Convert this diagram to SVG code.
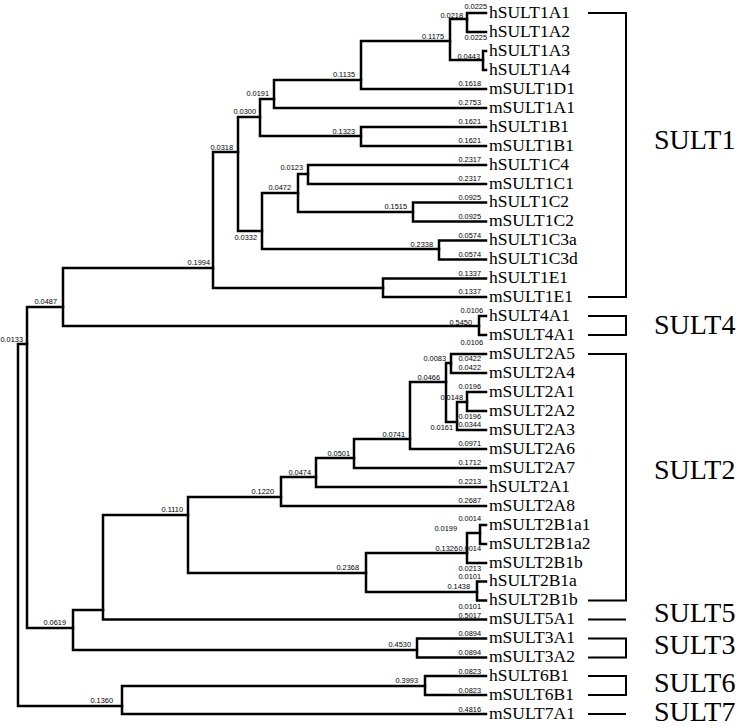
<svg xmlns="http://www.w3.org/2000/svg" width="744" height="727" viewBox="0 0 744 727">
<style>
.br{fill:none;stroke:#000;stroke-width:2.5;stroke-linecap:square;stroke-linejoin:miter}
.bk{fill:none;stroke:#000;stroke-width:2;stroke-linecap:butt;stroke-linejoin:miter}
.lf{font-family:"Liberation Serif","Times New Roman",serif;font-size:17.5px;fill:#000}
.cl{font-family:"Liberation Serif","Times New Roman",serif;font-size:28px;fill:#000}
.bl{font-family:"Liberation Sans",Arial,sans-serif;font-size:7.4px;fill:#000;text-anchor:end}
</style>
<rect width="744" height="727" fill="#fff"/>
<g id="connectors">
<path class="br" d="M486,13 H467 V32 H486"/>
<path class="br" d="M486,51 H483 V70 H486"/>
<path class="br" d="M486,127 H361 V146 H486"/>
<path class="br" d="M486,165 H308 V184 H486"/>
<path class="br" d="M486,202.5 H413 V221.5 H486"/>
<path class="br" d="M486,240.5 H439 V259.5 H486"/>
<path class="br" d="M486,278.5 H383 V297 H486"/>
<path class="br" d="M486,316 H479 V335 H486"/>
<path class="br" d="M486,354 H451 V373 H486"/>
<path class="br" d="M486,392 H467 V411 H486"/>
<path class="br" d="M486,525 H480 V544 H486"/>
<path class="br" d="M486,581.5 H477 V600.5 H486"/>
<path class="br" d="M486,638.5 H417 V657.5 H486"/>
<path class="br" d="M486,676 H425 V695 H486"/>
<path class="br" d="M467,19 H450 V60 H483"/>
<path class="br" d="M450,41 H361 V89 H486"/>
<path class="br" d="M361,80 H274 V108 H486"/>
<path class="br" d="M274,99 H260 V136 H361"/>
<path class="br" d="M260,117 H238 V231 H262"/>
<path class="br" d="M308,174 H298 V212 H413"/>
<path class="br" d="M298,193 H262 V249 H439"/>
<path class="br" d="M238,152 H213 V288 H383"/>
<path class="br" d="M213,268 H63 V326 H479"/>
<path class="br" d="M63,307 H27 V628 H73"/>
<path class="br" d="M27,344 H18 V706 H122"/>
<path class="br" d="M467,402 H457 V430 H486"/>
<path class="br" d="M451,363 H446 V422 H457"/>
<path class="br" d="M446,382 H410 V449 H486"/>
<path class="br" d="M410,439 H354 V468 H486"/>
<path class="br" d="M354,458 H316 V487 H486"/>
<path class="br" d="M316,477 H281 V506 H486"/>
<path class="br" d="M480,533 H467 V563 H486"/>
<path class="br" d="M467,553 H366 V592 H477"/>
<path class="br" d="M281,497 H188 V573 H366"/>
<path class="br" d="M188,515 H103 V619.5 H486"/>
<path class="br" d="M103,610 H73 V650 H417"/>
<path class="br" d="M425,686 H122 V714 H486"/>
</g>
<g id="branch-lengths">
<text class="bl" x="487" y="8.5">0.0225</text>
<text class="bl" x="487" y="40">0.0225</text>
<text class="bl" x="481" y="86">0.1618</text>
<text class="bl" x="481" y="105">0.2753</text>
<text class="bl" x="481" y="124">0.1621</text>
<text class="bl" x="481" y="143">0.1621</text>
<text class="bl" x="481" y="162">0.2317</text>
<text class="bl" x="481" y="181">0.2317</text>
<text class="bl" x="481" y="199.5">0.0925</text>
<text class="bl" x="481" y="218.5">0.0925</text>
<text class="bl" x="481" y="237.5">0.0574</text>
<text class="bl" x="481" y="256.5">0.0574</text>
<text class="bl" x="481" y="275.5">0.1337</text>
<text class="bl" x="481" y="294">0.1337</text>
<text class="bl" x="483" y="313">0.0106</text>
<text class="bl" x="483" y="345">0.0106</text>
<text class="bl" x="481" y="361">0.0422</text>
<text class="bl" x="481" y="370">0.0422</text>
<text class="bl" x="481" y="389">0.0196</text>
<text class="bl" x="481" y="419">0.0196</text>
<text class="bl" x="481" y="427">0.0344</text>
<text class="bl" x="481" y="446">0.0971</text>
<text class="bl" x="481" y="465">0.1712</text>
<text class="bl" x="481" y="484">0.2213</text>
<text class="bl" x="481" y="503">0.2687</text>
<text class="bl" x="481" y="521">0.0014</text>
<text class="bl" x="481" y="551">0.0014</text>
<text class="bl" x="481" y="571">0.0213</text>
<text class="bl" x="481" y="579">0.0101</text>
<text class="bl" x="481" y="608.5">0.0101</text>
<text class="bl" x="481" y="617.5">0.5017</text>
<text class="bl" x="481" y="636">0.0894</text>
<text class="bl" x="481" y="655">0.0894</text>
<text class="bl" x="481" y="674">0.0823</text>
<text class="bl" x="481" y="693">0.0823</text>
<text class="bl" x="481" y="712">0.4816</text>
<text class="bl" x="463" y="18">0.0218</text>
<text class="bl" x="444" y="38.5">0.1175</text>
<text class="bl" x="480" y="58.5">0.0443</text>
<text class="bl" x="355" y="77">0.1135</text>
<text class="bl" x="269" y="96">0.0191</text>
<text class="bl" x="256" y="114">0.0300</text>
<text class="bl" x="355" y="133.5">0.1323</text>
<text class="bl" x="233" y="150">0.0318</text>
<text class="bl" x="303" y="170">0.0123</text>
<text class="bl" x="291" y="190">0.0472</text>
<text class="bl" x="407" y="209">0.1515</text>
<text class="bl" x="257" y="240">0.0332</text>
<text class="bl" x="433" y="246.5">0.2338</text>
<text class="bl" x="210" y="265">0.1994</text>
<text class="bl" x="57" y="304">0.0487</text>
<text class="bl" x="472" y="325">0.5450</text>
<text class="bl" x="23" y="342">0.0133</text>
<text class="bl" x="446" y="361">0.0083</text>
<text class="bl" x="440" y="380">0.0466</text>
<text class="bl" x="463" y="400">0.0148</text>
<text class="bl" x="453" y="430">0.0161</text>
<text class="bl" x="405" y="437">0.0741</text>
<text class="bl" x="350" y="456">0.0501</text>
<text class="bl" x="311" y="475">0.0474</text>
<text class="bl" x="274" y="494">0.1220</text>
<text class="bl" x="183" y="512">0.1110</text>
<text class="bl" x="457" y="531">0.0199</text>
<text class="bl" x="458" y="551">0.1326</text>
<text class="bl" x="359" y="570">0.2368</text>
<text class="bl" x="470" y="589">0.1438</text>
<text class="bl" x="66" y="625">0.0619</text>
<text class="bl" x="411" y="647">0.4530</text>
<text class="bl" x="418" y="683">0.3993</text>
<text class="bl" x="113" y="703">0.1360</text>
</g>
<g id="leaf-hSULT1A1"><text class="lf" x="489" y="17.5">hSULT1A1</text></g>
<g id="leaf-hSULT1A2"><text class="lf" x="489" y="36.5">hSULT1A2</text></g>
<g id="leaf-hSULT1A3"><text class="lf" x="489" y="55.5">hSULT1A3</text></g>
<g id="leaf-hSULT1A4"><text class="lf" x="489" y="74.5">hSULT1A4</text></g>
<g id="leaf-mSULT1D1"><text class="lf" x="489" y="93.5">mSULT1D1</text></g>
<g id="leaf-mSULT1A1"><text class="lf" x="489" y="112.5">mSULT1A1</text></g>
<g id="leaf-hSULT1B1"><text class="lf" x="489" y="131.5">hSULT1B1</text></g>
<g id="leaf-mSULT1B1"><text class="lf" x="489" y="150.5">mSULT1B1</text></g>
<g id="leaf-hSULT1C4"><text class="lf" x="489" y="169.5">hSULT1C4</text></g>
<g id="leaf-mSULT1C1"><text class="lf" x="489" y="188.5">mSULT1C1</text></g>
<g id="leaf-hSULT1C2"><text class="lf" x="489" y="207">hSULT1C2</text></g>
<g id="leaf-mSULT1C2"><text class="lf" x="489" y="226">mSULT1C2</text></g>
<g id="leaf-hSULT1C3a"><text class="lf" x="489" y="245">hSULT1C3a</text></g>
<g id="leaf-hSULT1C3d"><text class="lf" x="489" y="264">hSULT1C3d</text></g>
<g id="leaf-hSULT1E1"><text class="lf" x="489" y="283">hSULT1E1</text></g>
<g id="leaf-mSULT1E1"><text class="lf" x="489" y="301.5">mSULT1E1</text></g>
<g id="leaf-hSULT4A1"><text class="lf" x="489" y="320.5">hSULT4A1</text></g>
<g id="leaf-mSULT4A1"><text class="lf" x="489" y="339.5">mSULT4A1</text></g>
<g id="leaf-mSULT2A5"><text class="lf" x="489" y="358.5">mSULT2A5</text></g>
<g id="leaf-mSULT2A4"><text class="lf" x="489" y="377.5">mSULT2A4</text></g>
<g id="leaf-mSULT2A1"><text class="lf" x="489" y="396.5">mSULT2A1</text></g>
<g id="leaf-mSULT2A2"><text class="lf" x="489" y="415.5">mSULT2A2</text></g>
<g id="leaf-mSULT2A3"><text class="lf" x="489" y="434.5">mSULT2A3</text></g>
<g id="leaf-mSULT2A6"><text class="lf" x="489" y="453.5">mSULT2A6</text></g>
<g id="leaf-mSULT2A7"><text class="lf" x="489" y="472.5">mSULT2A7</text></g>
<g id="leaf-hSULT2A1"><text class="lf" x="489" y="491.5">hSULT2A1</text></g>
<g id="leaf-mSULT2A8"><text class="lf" x="489" y="510.5">mSULT2A8</text></g>
<g id="leaf-mSULT2B1a1"><text class="lf" x="489" y="529.5">mSULT2B1a1</text></g>
<g id="leaf-mSULT2B1a2"><text class="lf" x="489" y="548.5">mSULT2B1a2</text></g>
<g id="leaf-mSULT2B1b"><text class="lf" x="489" y="567.5">mSULT2B1b</text></g>
<g id="leaf-hSULT2B1a"><text class="lf" x="489" y="586">hSULT2B1a</text></g>
<g id="leaf-hSULT2B1b"><text class="lf" x="489" y="605">hSULT2B1b</text></g>
<g id="leaf-mSULT5A1"><text class="lf" x="489" y="624">mSULT5A1</text></g>
<g id="leaf-mSULT3A1"><text class="lf" x="489" y="643">mSULT3A1</text></g>
<g id="leaf-mSULT3A2"><text class="lf" x="489" y="662">mSULT3A2</text></g>
<g id="leaf-hSULT6B1"><text class="lf" x="489" y="680.5">hSULT6B1</text></g>
<g id="leaf-mSULT6B1"><text class="lf" x="489" y="699.5">mSULT6B1</text></g>
<g id="leaf-mSULT7A1"><text class="lf" x="489" y="718.5">mSULT7A1</text></g>
<g id="clade-SULT1"><path class="bk" d="M588,13 H626 V297 H588"/><text class="cl" x="654" y="149">SULT1</text></g>
<g id="clade-SULT4"><path class="bk" d="M588,316 H626 V335 H588"/><text class="cl" x="654" y="334">SULT4</text></g>
<g id="clade-SULT2"><path class="bk" d="M588,354 H626 V600.5 H588"/><text class="cl" x="654" y="479">SULT2</text></g>
<g id="clade-SULT5"><path class="bk" d="M588,619.5 H626"/><text class="cl" x="654" y="622">SULT5</text></g>
<g id="clade-SULT3"><path class="bk" d="M588,638.5 H626 V657.5 H588"/><text class="cl" x="654" y="654">SULT3</text></g>
<g id="clade-SULT6"><path class="bk" d="M588,676 H626 V695 H588"/><text class="cl" x="654" y="692">SULT6</text></g>
<g id="clade-SULT7"><path class="bk" d="M588,714 H626"/><text class="cl" x="654" y="721">SULT7</text></g>
</svg>
